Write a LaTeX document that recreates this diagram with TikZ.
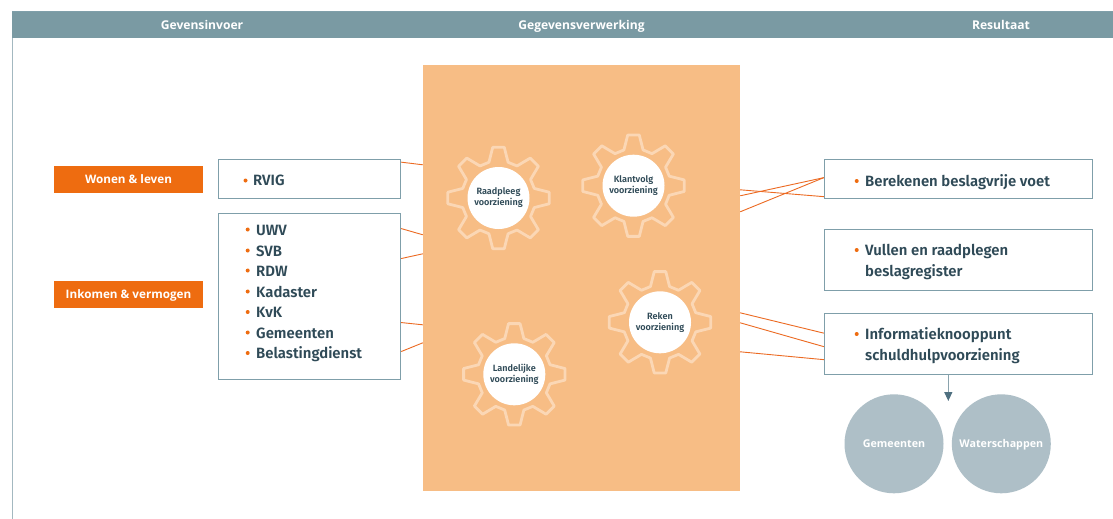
\documentclass[tikz,border=0pt]{standalone}
\usepackage{fontspec}
\setmainfont{Open Sans}
\newfontfamily\bodyfont[BoldFont={Fira Sans SemiBold}]{Fira Sans}
\usetikzlibrary{calc,arrows.meta}
\definecolor{headbar}{HTML}{7A9AA3}
\definecolor{frameline}{HTML}{A3B8C0}
\definecolor{boxline}{HTML}{7F9FAA}
\definecolor{inkdark}{HTML}{2F4A57}
\definecolor{accent}{HTML}{EE6C10}
\definecolor{linkline}{HTML}{EC6A22}
\definecolor{panelfill}{HTML}{F7BD85}
\definecolor{gearline}{HTML}{FBD7B5}
\definecolor{discfill}{HTML}{AEBFC7}
\definecolor{arrowdark}{HTML}{4F7080}
\definecolor{arrowline}{HTML}{8AA3AD}
\tikzset{
  headlabel/.style={text=white,font=\fontsize{12.1}{14}\selectfont\bfseries,inner sep=0pt,text height=9pt,text depth=3pt},
  tagbox/.style={fill=accent,minimum width=149pt,minimum height=27pt,inner sep=0pt,text=white,font=\fontsize{11.7}{13}\selectfont\bfseries,text height=9pt,text depth=1pt},
  listbox/.style={draw=boxline,line width=0.9pt,fill=white,minimum width=182.5pt,inner sep=0pt},
  resultbox/.style={draw=boxline,line width=0.9pt,fill=white,minimum width=268.5pt,inner sep=0pt},
  entry/.style={anchor=west,inner sep=0pt,text=inkdark,text height=10pt,text depth=3pt,font=\bodyfont\fontsize{14.9}{17}\selectfont\bfseries},
  dot/.style={fill=accent},
  link/.style={draw=linkline,line width=0.9pt},
  hub/.style={circle,fill=white,minimum size=62pt,inner sep=0pt,align=center,text=inkdark,font=\bodyfont\fontsize{9.1}{11}\selectfont\bfseries},
  disc/.style={circle,fill=discfill,minimum size=99pt,inner sep=0pt,text=white,font=\fontsize{10.7}{13}\selectfont\bfseries,text height=8pt,text depth=0pt},
  gearpic/.pic={
    \draw[gearline,line width=2.8pt,line join=round]
      (-15:37) \foreach \a in {0,45,...,315}{ -- (\a-15:37) -- (\a-6.5:51) -- (\a+6.5:51) -- (\a+15:37)} -- cycle;
  }
}
\begin{document}
\begin{tikzpicture}[x=1pt,y=-1pt]
\useasboundingbox (0,0) rectangle (1113,519);
\fill[white] (0,0) rectangle (1113,519);
% frame and header
\draw[frameline,line width=1.2pt] (12.3,11) -- (12.3,519);
\fill[headbar] (12,11) rectangle (1113,38);
\draw[boxline,line width=0.8pt] (12,11) -- (1113,11);
\node[headlabel] (h1) at (202,26.2) {Gevensinvoer};
\node[headlabel] (h2) at (581.5,26.2) {Gegevensverwerking};
\node[headlabel] (h3) at (1001,26.2) {Resultaat};
% panel
\node[fill=panelfill,minimum width=317pt,minimum height=426pt,inner sep=0pt] (panel) at (581.5,278) {};
% input boxes
\node[tagbox] (wonen) at (128.5,179.8) {Wonen \& leven};
\node[tagbox] (inkomen) at (128.5,294.5) {Inkomen \& vermogen};
\node[listbox,minimum height=39pt] (rvig) at (309.5,178.6) {};
\node[listbox,minimum height=166pt] (bronnen) at (309.5,296) {};
% result boxes
\node[resultbox,minimum height=39pt] (beslagvrij) at (958.5,178.6) {};
\node[resultbox,minimum height=61pt] (register) at (958.5,259.6) {};
\node[resultbox,minimum height=61pt] (knooppunt) at (958.5,343.6) {};
% connectors left
\draw[link] ($(rvig.north east)+(0,3.5)$) -- ($(panel.north west)+(0,100)$);
\draw[link] ($(bronnen.north east)+(0,16)$) -- ($(panel.north west)+(0,170)$);
\draw[link] ($(bronnen.north east)+(0,46)$) -- ($(panel.north west)+(0,189)$);
\draw[link] ($(bronnen.north east)+(0,110)$) -- ($(panel.north west)+(0,260)$);
\draw[link] ($(bronnen.north east)+(0,139)$) -- ($(panel.north west)+(0,278)$);
% connectors right
\draw[link] ($(panel.north east)+(0,125)$) -- ($(beslagvrij.north west)+(0,38)$);
\draw[link] ($(panel.north east)+(0,131)$) -- ($(beslagvrij.north west)+(0,19)$);
\draw[link] ($(panel.north east)+(0,147)$) -- ($(beslagvrij.north west)+(0,19)$);
\draw[link] ($(panel.north east)+(0,248)$) -- ($(knooppunt.north west)+(0,20.5)$);
\draw[link] ($(panel.north east)+(0,258)$) -- ($(knooppunt.north west)+(0,34)$);
\draw[link] ($(panel.north east)+(0,287)$) -- ($(knooppunt.north west)+(0,47)$);
% gears
\pic at (498.5,198) {gearpic};
\pic at (633.5,185.7) {gearpic};
\pic at (514.3,374.3) {gearpic};
\pic at (660,322.3) {gearpic};
\node[hub] (raad) at (498.5,198) {Raadpleeg\\voorziening};
\node[hub] (klant) at (633.5,185.7) {Klantvolg\\voorziening};
\node[hub] (land) at (514.3,374.3) {Landelijke\\voorziening};
\node[hub] (reken) at (660,322.3) {Reken\\voorziening};
% list text
\fill[dot] (245.5,180.5) circle (2);
\node[entry] (t0) at (253,182) {RVIG};
\foreach \n/\y/\t in {a/229.5/UWV,b/250.5/SVB,c/270.5/RDW,d/291.5/Kadaster,e/312/KvK,f/332.5/Gemeenten,g/353/Belastingdienst}{
  \fill[dot] (247.7,\y) circle (2);
  \node[entry] (t\n) at (256,\y+2.2) {\t};
}
\foreach \n/\y/\t in {p/181/Berekenen beslagvrije voet,q/250/Vullen en raadplegen,s/334/Informatieknooppunt}{
  \fill[dot] (856.7,\y) circle (2);
  \node[entry] (t\n) at (865,\y+1.5) {\t};
}
\node[entry] (tr) at (865,272.5) {beslagregister};
\node[entry] (tu) at (865,356.5) {schuldhulpvoorziening};
% discs
\node[disc] (gem) at (894,443.8) {Gemeenten};
\node[disc] (wat) at (1001.3,443.8) {Waterschappen};
\coordinate (arrowend) at (948.3,401);
\draw[arrowline,line width=1.2pt,-{Triangle[length=9pt,width=8pt,color=arrowdark]}] (knooppunt.south -| arrowend) -- (arrowend);
\end{tikzpicture}
\end{document}
